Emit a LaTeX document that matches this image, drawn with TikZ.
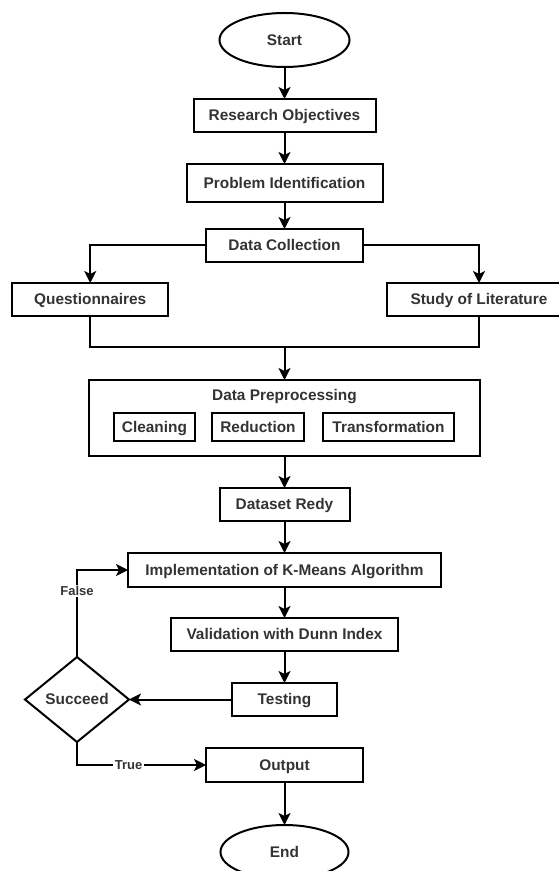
\documentclass[tikz,border=0pt]{standalone}
\usepackage{fontspec}
\setmainfont{Liberation Sans}
\usepackage{tikz}
\usetikzlibrary{shapes.geometric, arrows.meta, positioning}
\tikzstyle{block} = [rectangle, minimum height=16.5pt,
    text centered, draw=black, line width=1pt,
    font=\bfseries\fontsize{7.7}{9}\selectfont, text=black!80,
    text height=6.4pt, text depth=1.2pt,
    inner sep=3pt, outer sep=0pt]
\tikzstyle{subblock}  = [block, minimum height=14pt, inner xsep=4pt]
\tikzstyle{termblock} = [block, ellipse, minimum width=65pt, minimum height=27pt]
\tikzstyle{decblock}  = [block, diamond, minimum width=52pt, minimum height=42.5pt, inner sep=0.5pt]
\tikzstyle{arrow}     = [-{Stealth[length=6pt, width=6pt, inset=1.5pt]}, line width=1pt]
\tikzstyle{thinarrow} = [arrow, line width=0.8pt]
\tikzstyle{line}      = [line width=1pt]
\tikzstyle{edgelabel} = [font=\bfseries\fontsize{6.5}{8}\selectfont, text=black!80,
    fill=white, inner sep=0.8pt]

\begin{document}
\begin{tikzpicture}[node distance=16pt]
  \useasboundingbox (-142.25pt,20pt) rectangle (136.75pt,-415.5pt);

  % Start
  \node[termblock] (start) {Start};
  \node[block, minimum width=91pt, below=of start] (obj) {Research Objectives};
  \node[block, minimum width=98pt, minimum height=19pt, below=of obj] (prob) {Problem Identification};
  \node[block, minimum width=78.5pt, below=13.5pt of prob] (coll) {Data Collection};

  % Sources
  \node[block, minimum width=77.75pt, below left=10.5pt and 19pt of coll] (quest) {Questionnaires};
  \node[block, minimum width=92pt, below right=10.5pt and 12pt of coll] (lit) {Study of Literature};

  % Preprocessing
  \node[block, minimum width=195pt, minimum height=38pt, below=59pt of coll] (prep) {};
  \node[font=\bfseries\fontsize{7.7}{9}\selectfont, text=black!80] (preptitle)
    at ([yshift=-8.5pt]prep.north) {Data Preprocessing};
  \node[subblock, minimum width=46pt] (red) at ([xshift=-13.25pt, yshift=-23.5pt]prep.north) {Reduction};
  \node[subblock, minimum width=40pt, left=8.5pt of red] (clean) {Cleaning};
  \node[subblock, minimum width=65.5pt, right=9.5pt of red] (trans) {Transformation};

  % Clustering
  \node[block, minimum width=65pt, below=of prep] (ready) {Dataset Redy};
  \node[block, minimum width=156.5pt, minimum height=17pt, below=of ready] (kmeans) {Implementation of K-Means Algorithm};
  \node[block, minimum width=113.5pt, below=15.5pt of kmeans] (dunn) {Validation with Dunn Index};
  \node[block, minimum width=52.5pt, below=of dunn] (test) {Testing};
  \node[decblock, left=51.5pt of test] (succ) {Succeed};

  % Output
  \node[block, minimum width=78.5pt, minimum height=17pt, below=of test] (out) {Output};
  \node[termblock, minimum width=64pt, below=21.5pt of out] (stop) {End};

  \draw[arrow] (start) -- (obj);
  \draw[arrow] (obj) -- (prob);
  \draw[arrow] (prob) -- (coll);
  \draw[arrow] (coll.west) -| (quest.north);
  \draw[arrow] (coll.east) -| (lit.north);
  \coordinate[below=15.5pt of quest.south] (join);
  \draw[line] (quest.south) -- (join) -| (lit.south);
  \draw[arrow] (join -| prep.north) -- (prep.north);
  \draw[arrow] (prep) -- (ready);
  \draw[arrow] (ready) -- (kmeans);
  \draw[arrow] (kmeans) -- (dunn);
  \draw[arrow] (dunn) -- (test);
  \draw[arrow] (test) -- (succ);
  \draw[thinarrow] (succ.north) |- node[edgelabel, pos=0.38] {False} (kmeans.west);
  \draw[thinarrow] (succ.south) |- node[edgelabel, pos=0.7] {True} (out.west);
  \draw[arrow] (out) -- (stop);
\end{tikzpicture}
\end{document}
